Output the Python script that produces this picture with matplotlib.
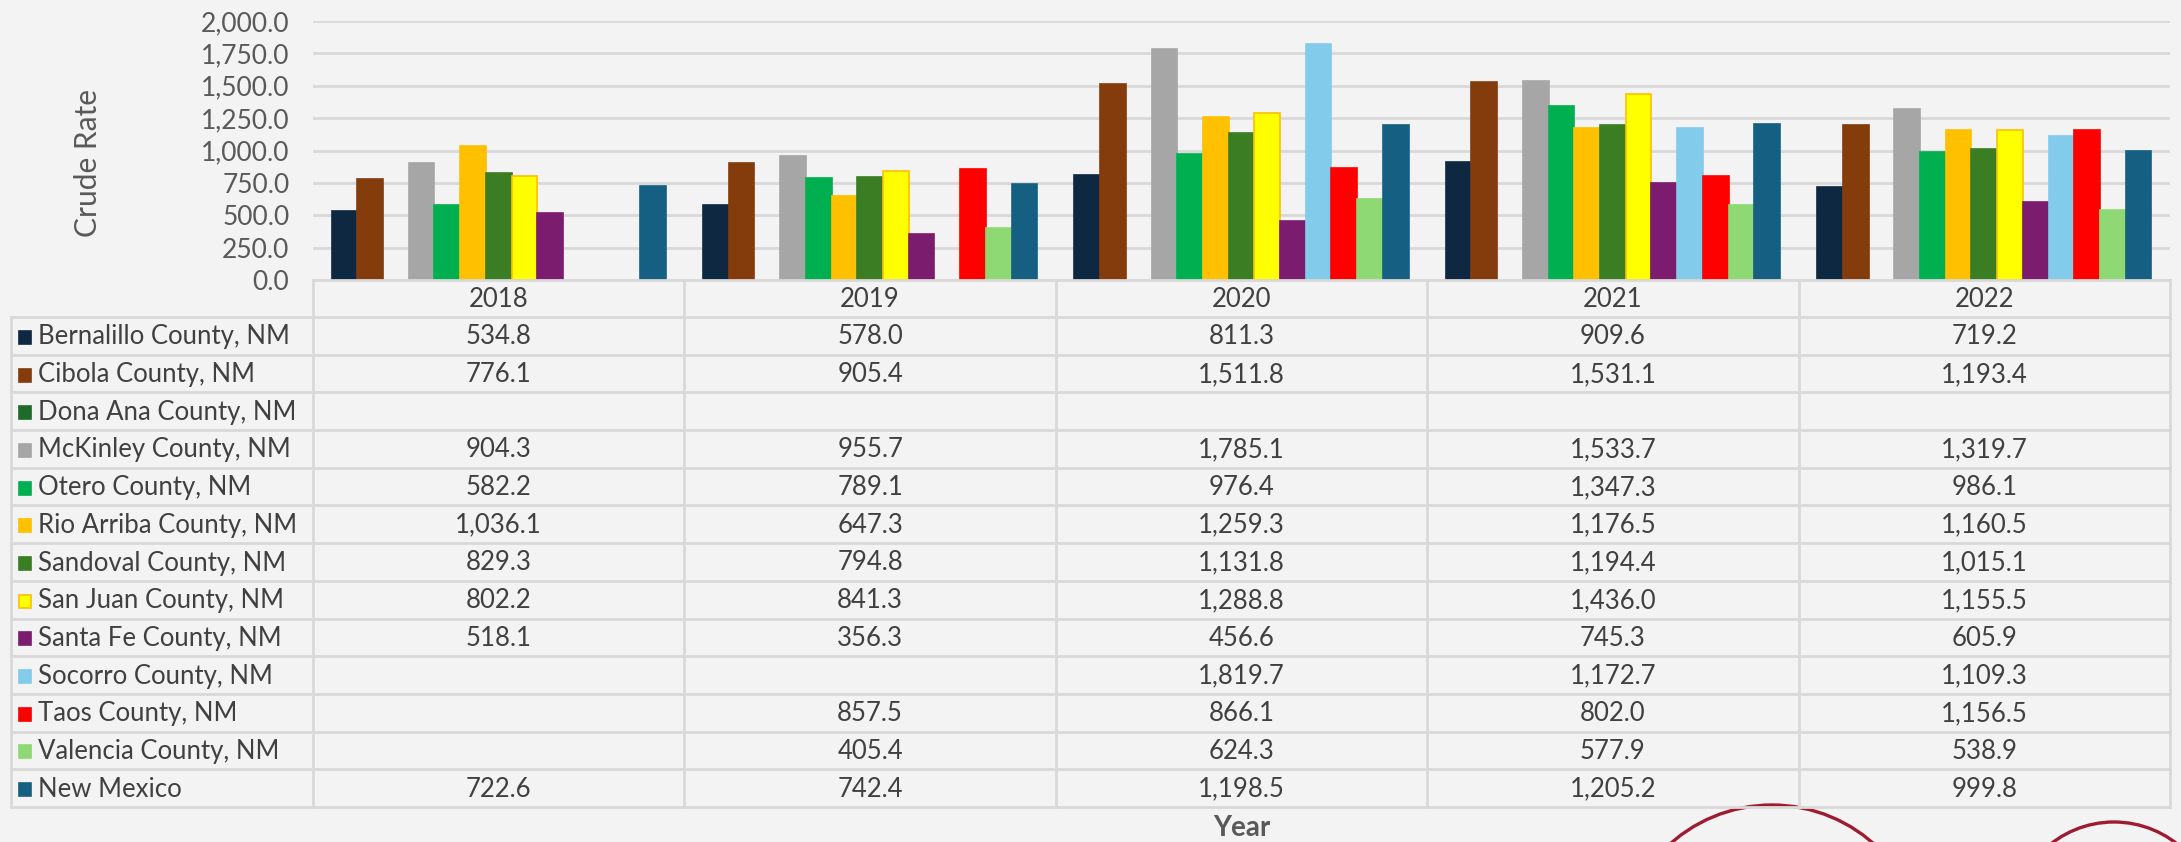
import numpy as np
import matplotlib
matplotlib.use('Agg')
import matplotlib.pyplot as plt
from matplotlib.patches import Circle, Rectangle

# Data
YEARS = ['2018', '2019', '2020', '2021', '2022']
COUNTIES = [
    'Bernalillo County, NM', 'Cibola County, NM', 'Dona Ana County, NM',
    'McKinley County, NM', 'Otero County, NM', 'Rio Arriba County, NM',
    'Sandoval County, NM', 'San Juan County, NM', 'Santa Fe County, NM',
    'Socorro County, NM', 'Taos County, NM', 'Valencia County, NM',
    'New Mexico',
]
bernalillo = [534.8, 578.0, 811.3, 909.6, 719.2]
cibola = [776.1, 905.4, 1511.8, 1531.1, 1193.4]
dona_ana = [None, None, None, None, None]
mckinley = [904.3, 955.7, 1785.1, 1533.7, 1319.7]
otero = [582.2, 789.1, 976.4, 1347.3, 986.1]
rio_arriba = [1036.1, 647.3, 1259.3, 1176.5, 1160.5]
sandoval = [829.3, 794.8, 1131.8, 1194.4, 1015.1]
san_juan = [802.2, 841.3, 1288.8, 1436.0, 1155.5]
santa_fe = [518.1, 356.3, 456.6, 745.3, 605.9]
socorro = [None, None, 1819.7, 1172.7, 1109.3]
taos = [None, 857.5, 866.1, 802.0, 1156.5]
valencia = [None, 405.4, 624.3, 577.9, 538.9]
new_mexico = [722.6, 742.4, 1198.5, 1205.2, 999.8]
SERIES = [bernalillo, cibola, dona_ana, mckinley, otero, rio_arriba, sandoval,
          san_juan, santa_fe, socorro, taos, valencia, new_mexico]
Y_TICKS = [0, 250, 500, 750, 1000, 1250, 1500, 1750, 2000]

# Styles
COLORS = ['#0E2841', '#843C0C', '#1E6B2A', '#A6A6A6', '#00B050', '#FFC000',
          '#3B7D23', '#FFFF00', '#7B1C6E', '#83CBEB', '#FF0000', '#8ED973',
          '#156082']
EDGES = {7: '#FFC000'}
BG = '#f3f3f3'
GRID = '#d9d9d9'
TEXT = '#404040'
AXIS_TEXT = '#595959'
CIRCLE = '#9E1B32'
FONT = 'Lato'
TABLE_FS = 18.5

W, H = 2181, 842
PLOT_L, PLOT_R, PLOT_T, PLOT_B = 313, 2170, 21, 280
TABLE_L = 11
ROW_H = (807 - 317) / 13.0
HEADER_B = 317


def fmt(v):
    return '' if v is None else '{:,.1f}'.format(v)


def draw_bars(fig):
    ax = fig.add_axes([PLOT_L / W, 1 - PLOT_B / H,
                       (PLOT_R - PLOT_L) / W, (PLOT_B - PLOT_T) / H])
    ax.set_facecolor('none')
    n = len(SERIES)
    width = 0.9 / n
    x = np.arange(len(YEARS))
    for i, vals in enumerate(SERIES):
        heights = [np.nan if v is None else v for v in vals]
        offs = (i - (n - 1) / 2.0) * width
        ax.bar(x + offs, heights, width, color=COLORS[i],
               edgecolor=EDGES.get(i, COLORS[i]), linewidth=1.2, zorder=3)
    ax.set_xlim(-0.5, len(YEARS) - 0.5)
    ax.set_ylim(0, 2000)
    ax.set_yticks(Y_TICKS)
    ax.set_yticklabels(['{:,.1f}'.format(t) for t in Y_TICKS],
                       fontsize=19, color=AXIS_TEXT, family=FONT)
    ax.tick_params(axis='y', length=0, pad=17)
    ax.set_xticks([])
    ax.yaxis.grid(True, color=GRID, linewidth=2, zorder=0)
    for s in ax.spines.values():
        s.set_visible(False)
    return ax


def draw_table(fig):
    sheet = fig.add_axes([0, 0, 1, 1])
    sheet.set_xlim(0, W)
    sheet.set_ylim(H, 0)
    sheet.axis('off')
    sheet.set_facecolor('none')
    col_w = (PLOT_R - PLOT_L) / len(YEARS)
    bottom = HEADER_B + ROW_H * len(COUNTIES)
    lw = 2

    # header row
    sheet.plot([PLOT_L, PLOT_R], [PLOT_B, PLOT_B], color=GRID, lw=lw)
    for j, yr in enumerate(YEARS):
        cx = PLOT_L + col_w * (j + 0.5)
        sheet.text(cx, (PLOT_B + HEADER_B) / 2 + 1, yr, ha='center', va='center',
                   fontsize=TABLE_FS, color=TEXT, family=FONT)
    for j in range(len(YEARS) + 1):
        xx = PLOT_L + col_w * j
        sheet.plot([xx, xx], [PLOT_B, bottom], color=GRID, lw=lw)
    sheet.plot([TABLE_L, TABLE_L], [HEADER_B, bottom], color=GRID, lw=lw)

    # body rows
    for i, name in enumerate(COUNTIES):
        top = HEADER_B + ROW_H * i
        sheet.plot([TABLE_L, PLOT_R], [top, top], color=GRID, lw=lw)
        cy = top + ROW_H / 2 + 1
        sheet.add_patch(Rectangle((19, cy - 6), 12, 13, facecolor=COLORS[i],
                                  edgecolor=EDGES.get(i, COLORS[i]), lw=1.2))
        sheet.text(38, cy, name, ha='left', va='center', fontsize=TABLE_FS,
                   color=TEXT, family=FONT)
        for j, v in enumerate(SERIES[i]):
            cx = PLOT_L + col_w * (j + 0.5)
            sheet.text(cx, cy, fmt(v), ha='center', va='center',
                       fontsize=TABLE_FS, color=TEXT, family=FONT)
    sheet.plot([TABLE_L, PLOT_R], [bottom, bottom], color=GRID, lw=lw)

    # axis titles
    sheet.text(88, 163, 'Crude Rate', rotation=90, ha='center', va='center',
               fontsize=21.5, color=AXIS_TEXT, family=FONT)
    sheet.text(1242, 828, 'Year', ha='center', va='center', fontsize=20,
               fontweight='bold', color=AXIS_TEXT, family=FONT)

    # logo arcs at the bottom edge
    sheet.add_patch(Circle((1772, 958), 153, fill=False, edgecolor=CIRCLE, lw=2.4))
    sheet.add_patch(Circle((2114, 924), 102, fill=False, edgecolor=CIRCLE, lw=2.4))


def main():
    fig = plt.figure(figsize=(W / 100, H / 100), dpi=100, facecolor=BG)
    draw_bars(fig)
    draw_table(fig)
    fig.savefig('out.png', dpi=100, facecolor=BG)


if __name__ == '__main__':
    main()
